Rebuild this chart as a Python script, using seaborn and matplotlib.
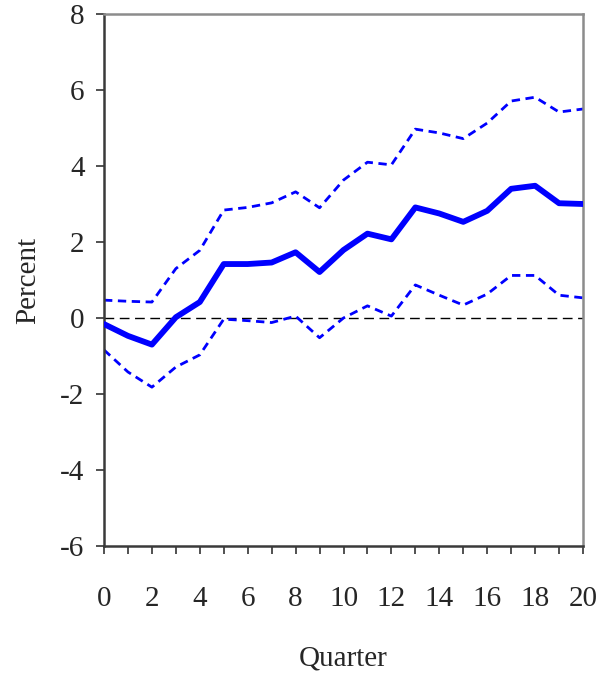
import matplotlib
matplotlib.use("Agg")
import matplotlib.pyplot as plt
import seaborn as sns
import pandas as pd

quarters = list(range(21))
response = [-0.16, -0.47, -0.70, 0.02, 0.42, 1.42, 1.42, 1.46, 1.73, 1.21, 1.79,
            2.22, 2.07, 2.91, 2.75, 2.53, 2.82, 3.40, 3.48, 3.02, 3.00]
upper_band = [0.47, 0.44, 0.42, 1.30, 1.78, 2.84, 2.91, 3.03, 3.32, 2.90, 3.63,
              4.10, 4.03, 4.97, 4.87, 4.72, 5.13, 5.71, 5.81, 5.42, 5.50]
lower_band = [-0.84, -1.42, -1.82, -1.29, -0.97, -0.03, -0.07, -0.12, 0.05, -0.52, 0.00,
              0.32, 0.05, 0.87, 0.60, 0.34, 0.63, 1.12, 1.12, 0.60, 0.53]

y_ticks = [-6, -4, -2, 0, 2, 4, 6, 8]
x_tick_labels = [str(q) if q % 2 == 0 else "" for q in quarters]

df = pd.DataFrame({"Quarter": quarters, "response": response,
                   "upper": upper_band, "lower": lower_band})

sns.set_theme(style="white")
plt.rcParams["font.family"] = ["Liberation Serif", "DejaVu Serif"]

fig = plt.figure(figsize=(6.13, 6.75), dpi=100)
ax = fig.add_axes([104 / 613, 1 - 546 / 675, (583 - 104) / 613, (546 - 14) / 675])

ax.axhline(0, color="black", lw=1.0, dashes=(7, 4), zorder=1)
sns.lineplot(data=df, x="Quarter", y="upper", ax=ax, color="#0000ff", lw=2.0,
             zorder=2).lines[-1].set_dashes((3.0, 2.0))
sns.lineplot(data=df, x="Quarter", y="lower", ax=ax, color="#0000ff", lw=2.0,
             zorder=2).lines[-1].set_dashes((3.0, 2.0))
sns.lineplot(data=df, x="Quarter", y="response", ax=ax, color="#0000ff", lw=4.2,
             zorder=3)

ax.set_xlim(0, 20)
ax.set_ylim(-6, 8)
ax.set_xticks(quarters)
ax.set_xticklabels(x_tick_labels)
ax.set_yticks(y_ticks)
ax.set_yticklabels([str(v) for v in y_ticks])

ax.tick_params(axis="x", direction="out", length=6, width=1.2, color="#333333",
               labelsize=21, pad=23, bottom=True)
ax.tick_params(axis="y", direction="out", length=6, width=1.2, color="#333333",
               labelsize=21, pad=8, left=True)

for side in ["left", "bottom"]:
    ax.spines[side].set_color("#3a3a3a")
    ax.spines[side].set_linewidth(1.8)
for side in ["top", "right"]:
    ax.spines[side].set_color("#8c8c8c")
    ax.spines[side].set_linewidth(1.8)
    ax.spines[side].set_visible(True)

ax.set_xlabel("Quarter", fontsize=21, labelpad=24)
ax.set_ylabel("Percent", fontsize=21, labelpad=14)
ax.grid(False)

fig.savefig("out.png", dpi=100, facecolor="white")
